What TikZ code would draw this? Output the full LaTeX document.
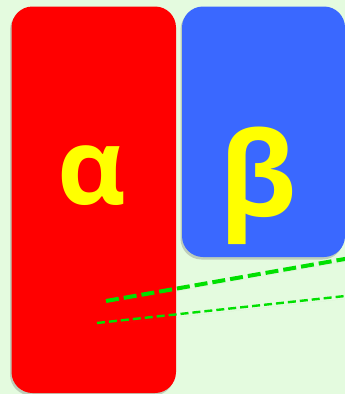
\documentclass[tikz,border=0pt]{standalone}
\usepackage{fontspec}
\setmainfont{Open Sans}
\usetikzlibrary{positioning, shadows}
\definecolor{bggreen}{HTML}{E4FBDF}
\definecolor{cardred}{HTML}{FF0000}
\definecolor{cardblue}{HTML}{3A68FF}
\definecolor{lettery}{HTML}{FFFF00}
\definecolor{linegreen}{HTML}{00E000}

\begin{document}
\begin{tikzpicture}[
    x=1pt, y=-1pt,
    card/.style={rounded corners=21pt, inner sep=0pt,
      drop shadow={shadow xshift=-1.5pt, shadow yshift=-2.5pt, opacity=0.3, fill=black!60}},
    letter/.style={text=lettery, anchor=base, inner sep=0pt,
      font=\fontsize{#1}{#1}\selectfont\bfseries},
    link/.style={linegreen, dash pattern=on 13pt off 5pt,
      drop shadow={shadow xshift=-1pt, shadow yshift=-3pt, opacity=0.2}},
  ]
  \fill[bggreen] (0,0) rectangle (345,394);
  \useasboundingbox (0,0) rectangle (345,394);
  \clip (0,0) rectangle (345,394);

  % the two cards
  \node[card, fill=cardred, minimum width=164.5pt, minimum height=386.5pt] (red) at (93.75,199.75) {};
  \node[card, fill=cardblue, minimum width=163pt, minimum height=250.5pt] (blue) at (263.5,131.75) {};

  % letters
  \node[letter=106] (alpha) at (92,204) {α};
  \node[letter=117] (beta) at (258,216) {β};

  % dashed links
  \coordinate (thickA) at (106,301);
  \coordinate (thickB) at (347,258.6);
  \coordinate (thinA) at (97,323);
  \coordinate (thinB) at (347,295.8);
  \draw[link, line width=4pt] (thickA) -- (thickB);
  \draw[link, line width=2.4pt, dash pattern=on 8pt off 4pt] (thinA) -- (thinB);
\end{tikzpicture}
\end{document}
